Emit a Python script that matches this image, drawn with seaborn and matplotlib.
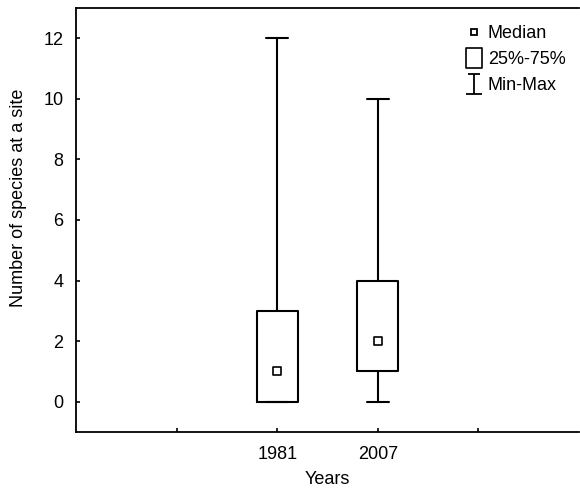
import matplotlib
matplotlib.use("Agg")
import matplotlib.pyplot as plt
import seaborn as sns
import pandas as pd
from matplotlib.path import Path
from matplotlib.lines import Line2D

years = ["1981", "2007"]
positions = [2, 3]
mins = [0, 0]
q1 = [0, 1]
medians = [1, 2]
q3 = [3, 4]
maxs = [12, 10]

sns.set_theme(style="ticks")
plt.rcParams['font.family'] = ['Liberation Sans', 'DejaVu Sans']
plt.rcParams['text.color'] = 'black'
plt.rcParams['axes.labelcolor'] = 'black'

fig = plt.figure(figsize=(5.8, 4.88), dpi=100)
ax = fig.add_axes([76/580, 1-432/488, 503/580, 424/488])

stats = []
for i, y in enumerate(years):
    stats.append(dict(label=y, whislo=mins[i], q1=q1[i], med=medians[i],
                      q3=q3[i], whishi=maxs[i]))
lw = 1.5
ax.bxp(stats, positions=positions, widths=0.41, showfliers=False,
       boxprops=dict(color="black", linewidth=lw),
       whiskerprops=dict(color="black", linewidth=lw),
       capprops=dict(color="black", linewidth=lw),
       medianprops=dict(linewidth=0),
       capwidths=0.22, manage_ticks=False)

df = pd.DataFrame({"pos": positions, "median": medians})
sns.scatterplot(data=df, x="pos", y="median", marker="s", s=26,
                facecolor="white", edgecolor="black", linewidth=1.2,
                ax=ax, zorder=5, legend=False)

ax.set_xlim(0, 5)
ax.set_ylim(-1, 13)
ax.set_xticks([1, 2, 3, 4])
ax.set_xticklabels(["", years[0], years[1], ""])
ax.set_yticks([0, 2, 4, 6, 8, 10, 12])
ax.tick_params(direction="in", length=3, width=1.2, labelsize=13, colors="black")
ax.tick_params(axis="y", pad=9)
ax.tick_params(axis="x", pad=10)
for s in ax.spines.values():
    s.set_color("black")
    s.set_linewidth(1.3)
ax.spines["right"].set_visible(False)
ax.set_xlabel("Years", fontsize=13, labelpad=6)
ax.set_ylabel("Number of species at a site", fontsize=13)
ax.yaxis.set_label_coords(-0.098, 0.552)

box = Path([(-0.4, -0.5), (0.4, -0.5), (0.4, 0.5), (-0.4, 0.5), (-0.4, -0.5)],
           [Path.MOVETO, Path.LINETO, Path.LINETO, Path.LINETO, Path.CLOSEPOLY])
ibeam = Path([(-0.32, 0.5), (0.32, 0.5), (0, 0.5), (0, -0.5), (-0.4, -0.5), (0.4, -0.5)],
             [Path.MOVETO, Path.LINETO, Path.MOVETO, Path.LINETO, Path.MOVETO, Path.LINETO])
handles = [
    Line2D([], [], marker="s", linestyle="none", markersize=4.5,
           markerfacecolor="white", markeredgecolor="black", markeredgewidth=1.3),
    Line2D([], [], marker=box, linestyle="none", markersize=14,
           markerfacecolor="white", markeredgecolor="black", markeredgewidth=1.2),
    Line2D([], [], marker=ibeam, linestyle="none", markersize=14,
           markerfacecolor="none", markeredgecolor="black", markeredgewidth=1.3),
]
ax.legend(handles, ["Median", "25%-75%", "Min-Max"], loc="upper left",
          bbox_to_anchor=(466/580, 1-25/488), bbox_transform=fig.transFigure,
          frameon=False, fontsize=13, borderpad=0, borderaxespad=0,
          handletextpad=0.35, labelspacing=0.5, handlelength=0.85)

fig.savefig("out.png", dpi=100)
